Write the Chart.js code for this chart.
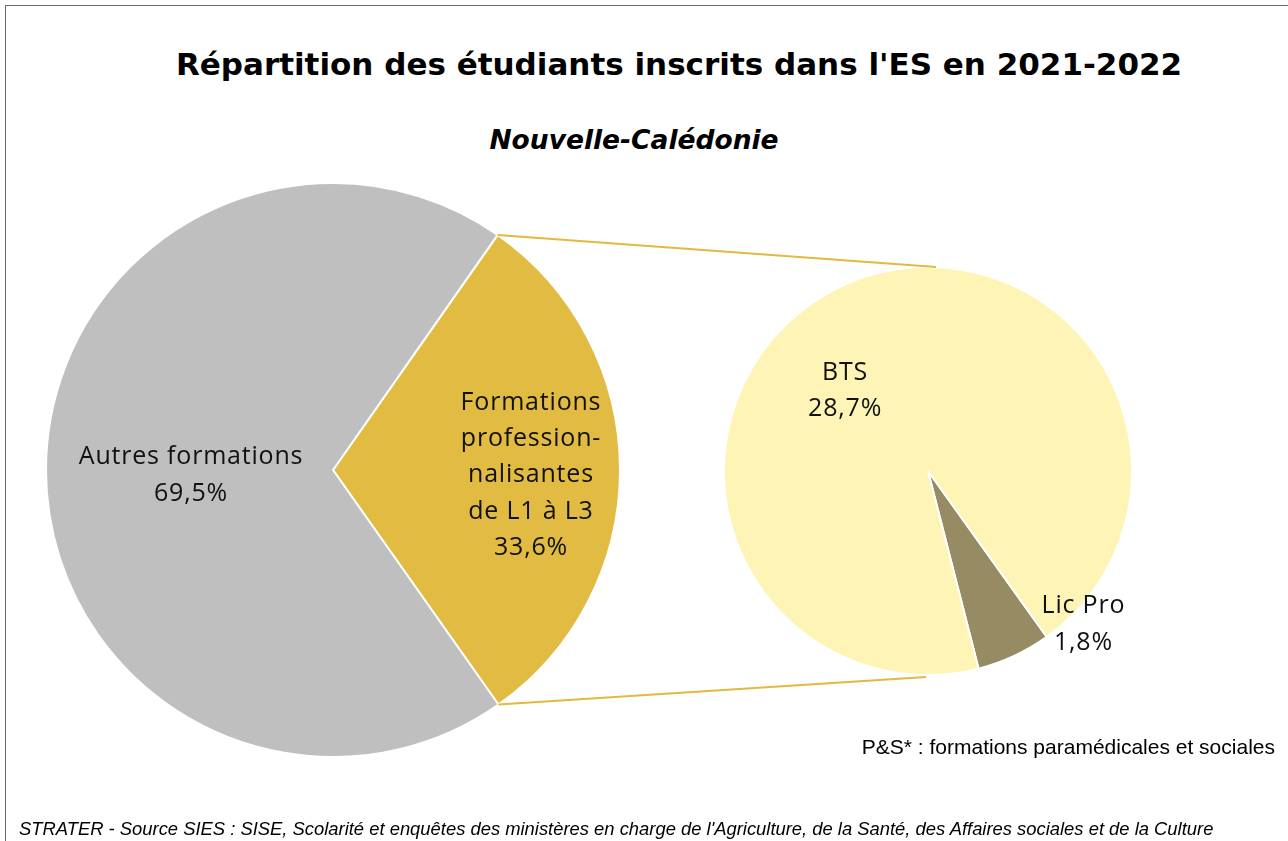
<!DOCTYPE html>
<html>
<head>
<meta charset="utf-8">
<script src="https://cdn.jsdelivr.net/npm/chart.js@4/dist/chart.umd.min.js"></script>
<style>
  body { margin: 0; background: #fff; }
  #page { position: relative; width: 1288px; height: 841px; overflow: hidden; background: #fff; }
  #frame { position: absolute; left: 5px; top: 5px; width: 1300px; height: 860px; border: 1px solid #6b6b6b; }
  .txt { position: absolute; white-space: nowrap; color: #000; }
  #title { left: 0; width: 1358px; top: 46px; text-align: center; font: bold 31px "DejaVu Sans", sans-serif; }
  #subtitle { left: 0; width: 1268px; top: 124px; text-align: center; font: italic bold 26.5px "DejaVu Sans", sans-serif; }
  #note { right: 13px; top: 735px; font: 21px "Liberation Sans", Arial, sans-serif; }
  #source { left: 19px; top: 818px; font: italic 18.4px "Liberation Sans", Arial, sans-serif; }
  #leftPie { position: absolute; left: 45px; top: 182px; }
  #rightPie { position: absolute; left: 723px; top: 266px; }
  #links { position: absolute; left: 0; top: 0; pointer-events: none; }
</style>
</head>
<body>
<div id="page">
  <div id="frame"></div>
  <div class="txt" id="title">Répartition des étudiants inscrits dans l'ES en 2021-2022</div>
  <div class="txt" id="subtitle">Nouvelle-Calédonie</div>
  <canvas id="leftPie" width="576" height="576"></canvas>
  <canvas id="rightPie" width="410" height="410"></canvas>
  <canvas id="links" width="1288" height="841"></canvas>
  <div class="txt" id="note">P&amp;S* : formations paramédicales et sociales</div>
  <div class="txt" id="source">STRATER - Source SIES : SISE, Scolarité et enquêtes des ministères en charge de l'Agriculture, de la Santé, des Affaires sociales et de la Culture</div>
</div>
<script>
// main pie
var mainLabels = ["Formations professionnalisantes de L1 à L3", "Autres formations"];
var mainValues = [30.5, 69.5];
var mainText = [["Formations", "profession-", "nalisantes", "de L1 à L3", "33,6%"], ["Autres formations", "69,5%"]];
var mainColors = ["#e1bb42", "#bfbfbf"];

// detail pie (split of the professional slice)
var subLabels = ["Lic Pro", "BTS"];
var subValues = [1.8, 28.7];
var subText = [["Lic Pro", "1,8%"], ["BTS", "28,7%"]];
var subColors = ["#968b62", "#fef4b6"];

// label anchor: angle (deg, clockwise from top) and radius fraction
var mainLabelPos = [[91.5, 0.69], [267.8, 0.495]];
var subLabelPos = [[134.6, 1.07], [314, 0.565]];

var labelFont = '25px "Open Sans", sans-serif';

function sliceLabels(texts, pos) {
    return {
        id: 'sliceLabels',
        afterDatasetsDraw: function (chart) {
            var ctx = chart.ctx;
            var arcs = chart.getDatasetMeta(0).data;
            ctx.save();
            ctx.font = labelFont;
            ctx.letterSpacing = '0.8px';
            ctx.fillStyle = '#111';
            ctx.textAlign = 'center';
            ctx.textBaseline = 'middle';
            arcs.forEach(function (arc, i) {
                var a = (pos[i][0] - 90) * Math.PI / 180;
                var r = arc.outerRadius * pos[i][1];
                var cx = arc.x + Math.cos(a) * r;
                var cy = arc.y + Math.sin(a) * r;
                var lines = texts[i];
                var lh = 36.3;
                var y0 = cy - (lines.length - 1) * lh / 2;
                lines.forEach(function (t, k) {
                    ctx.fillText(t, cx, y0 + k * lh);
                });
            });
            ctx.restore();
        }
    };
}

function pieOptions(rotation) {
    return {
        responsive: false,
        animation: false,
        rotation: rotation,
        layout: { padding: 0 },
        plugins: { legend: { display: false }, tooltip: { enabled: false }, title: { display: false } }
    };
}

var leftChart = new Chart(document.getElementById('leftPie'), {
    type: 'pie',
    data: {
        labels: mainLabels,
        datasets: [{ data: mainValues, backgroundColor: mainColors, borderColor: '#fff', borderWidth: 2 }]
    },
    options: pieOptions(35),
    plugins: [sliceLabels(mainText, mainLabelPos)]
});

var rightChart = new Chart(document.getElementById('rightPie'), {
    type: 'pie',
    data: {
        labels: subLabels,
        datasets: [{ data: subValues, backgroundColor: subColors, borderColor: '#fff', borderWidth: 2 }]
    },
    options: pieOptions(144.4),
    plugins: [sliceLabels(subText, subLabelPos)]
});

// connector lines from the professional slice to the detail pie
(function () {
    var lc = document.getElementById('leftPie'), rc = document.getElementById('rightPie');
    var arc = leftChart.getDatasetMeta(0).data[0];
    var rArc = rightChart.getDatasetMeta(0).data[0];
    var lx = lc.offsetLeft + arc.x, ly = lc.offsetTop + arc.y, R = arc.outerRadius;
    var rx = rc.offsetLeft + rArc.x, ry = rc.offsetTop + rArc.y, r2 = rArc.outerRadius;
    var ctx = document.getElementById('links').getContext('2d');
    ctx.strokeStyle = '#e3b93f';
    ctx.lineWidth = 2;
    ctx.beginPath();
    ctx.moveTo(lx + Math.cos(arc.startAngle) * R, ly + Math.sin(arc.startAngle) * R);
    ctx.lineTo(rx + 8, ry - r2);
    ctx.moveTo(lx + Math.cos(arc.endAngle) * R, ly + Math.sin(arc.endAngle) * R);
    ctx.lineTo(rx - 2, ry + r2 + 2);
    ctx.stroke();
})();
</script>
</body>
</html>
